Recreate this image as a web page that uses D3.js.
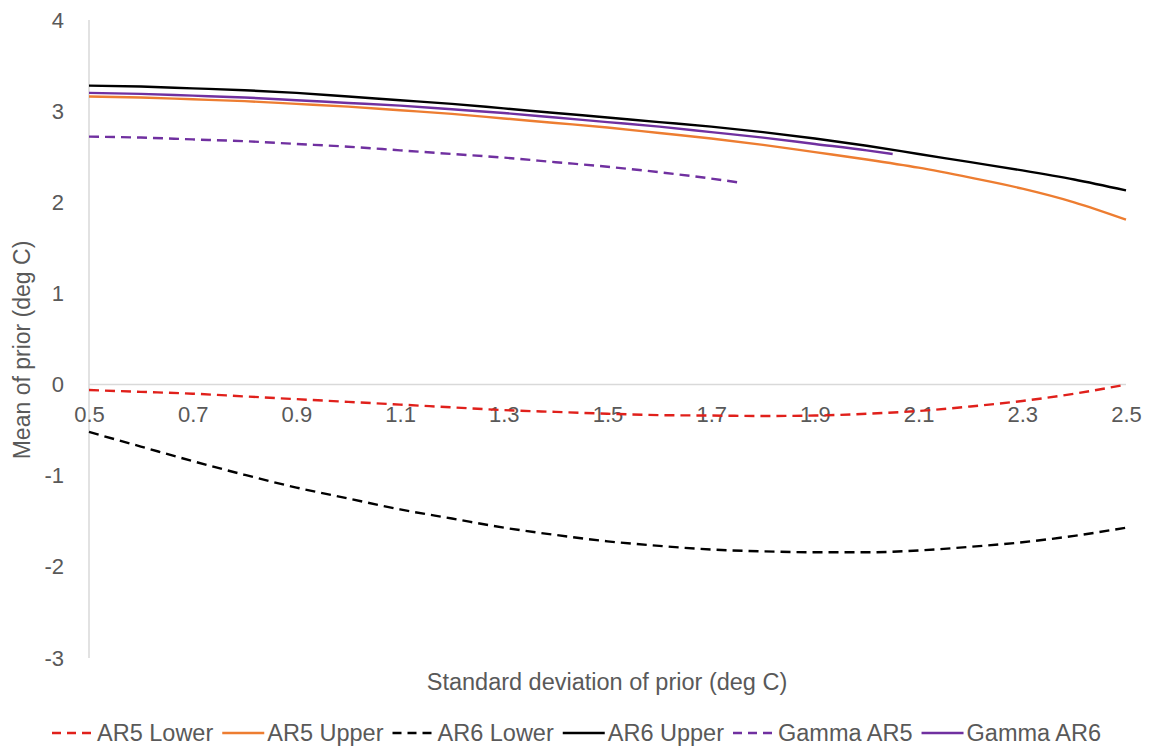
<!DOCTYPE html>
<html>
<head>
<meta charset="utf-8">
<script src="https://cdn.jsdelivr.net/npm/d3@7"></script>
<style>
  body { margin: 0; background: #fff; }
  text { font-family: "Liberation Sans", Arial, sans-serif; fill: #595959; }
</style>
</head>
<body>
<script>
// standard deviation of prior (x values)
const sdValues = [0.5, 0.6, 0.7, 0.8, 0.9, 1.0, 1.1, 1.2, 1.3, 1.4, 1.5,
  1.6, 1.7, 1.8, 1.9, 2.0, 2.1, 2.2, 2.3, 2.4, 2.5];
const ar5Lower = [-0.06, -0.08, -0.10, -0.13, -0.16, -0.19, -0.22, -0.25, -0.28, -0.30, -0.32,
  -0.335, -0.34, -0.345, -0.34, -0.32, -0.29, -0.24, -0.18, -0.10, 0.0];
const ar5Upper = [3.16, 3.15, 3.13, 3.11, 3.08, 3.05, 3.01, 2.97, 2.92, 2.87, 2.82,
  2.76, 2.70, 2.63, 2.55, 2.47, 2.38, 2.27, 2.15, 2.00, 1.81];
const ar6Lower = [-0.52, -0.68, -0.84, -0.99, -1.13, -1.25, -1.37, -1.47, -1.57, -1.65, -1.72,
  -1.77, -1.81, -1.83, -1.84, -1.84, -1.82, -1.78, -1.73, -1.66, -1.57];
const ar6Upper = [3.28, 3.27, 3.25, 3.23, 3.20, 3.16, 3.12, 3.08, 3.03, 2.98, 2.93,
  2.88, 2.83, 2.77, 2.70, 2.62, 2.53, 2.44, 2.35, 2.25, 2.13];

const gammaAr5Sd = [0.5, 0.6, 0.7, 0.8, 0.9, 1.0, 1.1, 1.2, 1.3, 1.4, 1.5, 1.6, 1.7, 1.75];
const gammaAr5 = [2.72, 2.71, 2.69, 2.67, 2.64, 2.61, 2.57, 2.53, 2.49, 2.44, 2.39, 2.33, 2.26, 2.22];
const gammaAr6Sd = [0.5, 0.6, 0.7, 0.8, 0.9, 1.0, 1.1, 1.2, 1.3, 1.4, 1.5, 1.6, 1.7, 1.8, 1.9, 2.0, 2.05];
const gammaAr6 = [3.20, 3.19, 3.17, 3.15, 3.12, 3.09, 3.06, 3.02, 2.98, 2.93, 2.88, 2.83, 2.77, 2.71, 2.64, 2.57, 2.53];

const xTicks = [0.5, 0.7, 0.9, 1.1, 1.3, 1.5, 1.7, 1.9, 2.1, 2.3, 2.5];
const yTicks = [-3, -2, -1, 0, 1, 2, 3, 4];

const series = [
  { name: 'AR5 Lower', xs: sdValues, ys: ar5Lower, color: '#e0201b', dash: '10,6' },
  { name: 'AR5 Upper', xs: sdValues, ys: ar5Upper, color: '#ed7d31', dash: null },
  { name: 'AR6 Lower', xs: sdValues, ys: ar6Lower, color: '#000000', dash: '10,6' },
  { name: 'AR6 Upper', xs: sdValues, ys: ar6Upper, color: '#000000', dash: null },
  { name: 'Gamma AR5', xs: gammaAr5Sd, ys: gammaAr5, color: '#7030a0', dash: '10,6' },
  { name: 'Gamma AR6', xs: gammaAr6Sd, ys: gammaAr6, color: '#7030a0', dash: null },
];

const width = 1151;
const height = 750;

const xScale = d3.scaleLinear().domain([0.5, 2.5]).range([89, 1126]);
const yScale = d3.scaleLinear().domain([-3, 4]).range([658, 20]);

const svg = d3.select('body')
  .append('svg')
  .attr('width', width)
  .attr('height', height);

// zero line (acts as the x axis)
svg.append('line')
  .attr('x1', xScale(0.5)).attr('x2', xScale(2.5))
  .attr('y1', yScale(0)).attr('y2', yScale(0))
  .style('stroke', '#d9d9d9')
  .style('stroke-width', 1.5);

// vertical axis line
svg.append('line')
  .attr('x1', xScale(0.5)).attr('x2', xScale(0.5))
  .attr('y1', yScale(4)).attr('y2', yScale(-3))
  .style('stroke', '#d9d9d9')
  .style('stroke-width', 1.5);

const yAxis = d3.axisLeft(yScale)
  .tickValues(yTicks)
  .tickSize(0)
  .tickPadding(0)
  .tickFormat(d => String(d)); // plain hyphen for negatives

svg.append('g')
  .attr('class', 'y axis')
  .attr('transform', 'translate(64,0)')
  .call(yAxis)
  .call(g => g.select('.domain').remove())
  .selectAll('text')
  .style('font-size', '22px')
  .style('fill', '#595959')
  .style('font-family', '"Liberation Sans", Arial, sans-serif');

const xAxis = d3.axisBottom(xScale)
  .tickValues(xTicks)
  .tickSize(0)
  .tickPadding(0)
  .tickFormat(d3.format('.1f'));

svg.append('g')
  .attr('class', 'x axis')
  .attr('transform', `translate(0,${yScale(0) + 22})`)
  .call(xAxis)
  .call(g => g.select('.domain').remove())
  .selectAll('text')
  .style('font-size', '22px')
  .style('fill', '#595959')
  .style('font-family', '"Liberation Sans", Arial, sans-serif');

const line = d3.line()
  .x(d => xScale(d[0]))
  .y(d => yScale(d[1]))
  .curve(d3.curveMonotoneX);

svg.append('g')
  .selectAll('path')
  .data(series)
  .join('path')
  .attr('d', s => line(s.xs.map((x, i) => [x, s.ys[i]])))
  .style('fill', 'none')
  .style('stroke', s => s.color)
  .style('stroke-width', 2.4)
  .style('stroke-dasharray', s => s.dash);

// axis titles
svg.append('text')
  .attr('transform', 'translate(30,350) rotate(-90)')
  .style('text-anchor', 'middle')
  .style('font-size', '23px')
  .text('Mean of prior (deg C)');

svg.append('text')
  .attr('x', 607)
  .attr('y', 690)
  .style('text-anchor', 'middle')
  .style('font-size', '23.5px')
  .text('Standard deviation of prior (deg C)');

// legend
const legend = svg.append('g');
const legendY = 733;
let lx = 0;
series.forEach(s => {
  const item = legend.append('g').attr('transform', `translate(${lx},0)`);
  item.append('line')
    .attr('x1', 0).attr('x2', 42)
    .attr('y1', legendY).attr('y2', legendY)
    .style('stroke', s.color)
    .style('stroke-width', 2.4)
    .style('stroke-dasharray', s.dash ? '9,6' : null);
  const t = item.append('text')
    .attr('x', 45)
    .attr('y', legendY + 8)
    .style('font-size', '23.5px')
    .text(s.name);
  lx += 45 + t.node().getComputedTextLength() + 9;
});
legend.attr('transform', `translate(${52},0)`);
</script>
</body>
</html>
